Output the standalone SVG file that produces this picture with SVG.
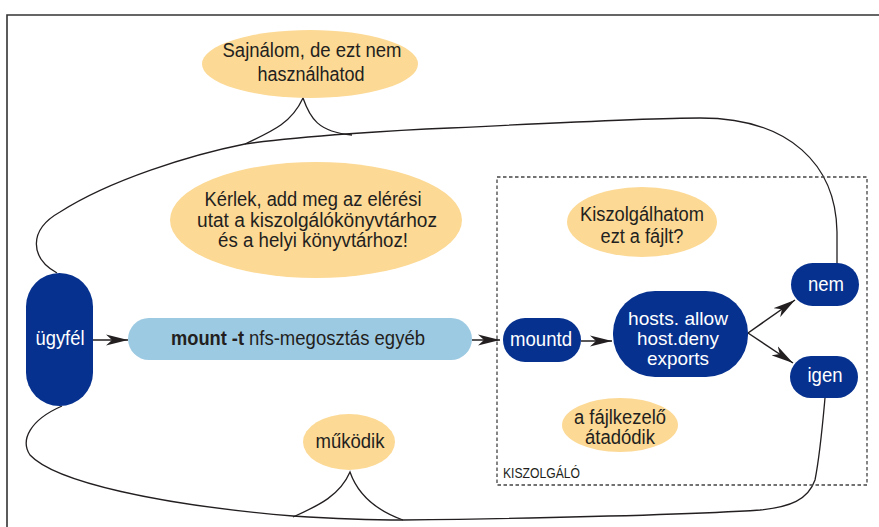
<svg xmlns="http://www.w3.org/2000/svg" width="879" height="527" viewBox="0 0 879 527">
<defs>
<style>
.bub{fill:#FCD995}
.dk{fill:#06318F}
.t{font-family:"Liberation Sans",Arial,sans-serif;font-size:20px;fill:#231F20;text-anchor:middle}
.w{fill:#fff}
.s{font-size:19px}
.ln{fill:none;stroke:#231F20;stroke-width:1.3}
.ar{fill:none;stroke:#231F20;stroke-width:1.5}
</style>
<marker id="ah" markerUnits="userSpaceOnUse" markerWidth="24" markerHeight="12" refX="22" refY="6" orient="auto">
<path d="M0,0.5 L22,6 L0,11.5 L6,6 Z" fill="#231F20"/>
</marker>
</defs>
<rect width="879" height="527" fill="#fff"/>
<path d="M7,527 L7,15 L879,15" fill="none" stroke="#333" stroke-width="1.6"/>

<g id="connectors">
<path class="ln" d="M57,273 C30,258 28,230 60,212 C110,180 190,155 245,144 C300,136 400,130 450,128 C550,123 650,118 700,118 C790,118 836,165 837,232 L837,263"/>
<path class="ln" d="M245,144 C275,130 292,122 303,98 C310,118 318,132 352,135"/>
<path class="ln" d="M62,406 C30,420 20,440 30,455 C55,482 160,505 293,516 C340,519 380,520 403,520 C550,518 700,514 760,510 C790,507 808,500 815,480 C820,455 823,420 825,398"/>
<path class="ln" d="M293,517 C320,505 340,495 350,472 C358,495 375,510 403,520"/>
<path class="ar" d="M93,340 L128,340" marker-end="url(#ah)"/>
<path class="ar" d="M472,340 L500,340" marker-end="url(#ah)"/>
<path class="ar" d="M581,341 L612,341" marker-end="url(#ah)"/>
<path class="ar" d="M748,333 L795,300" marker-end="url(#ah)"/>
<path class="ar" d="M748,333 L793,363" marker-end="url(#ah)"/>
</g>

<g id="kiszolgalo">
<rect x="497" y="177" width="370" height="308" fill="none" stroke="#444" stroke-width="1.3" stroke-dasharray="3.5,2.5"/>
<text x="503" y="478" font-family="'Liberation Sans',Arial,sans-serif" font-size="14" fill="#231F20" textLength="77" lengthAdjust="spacingAndGlyphs">KISZOLGÁLÓ</text>
</g>

<g id="sajnalom">
<ellipse class="bub" cx="310" cy="64" rx="108" ry="34"/>
<text class="t" x="312" y="57" textLength="179" lengthAdjust="spacingAndGlyphs">Sajnálom, de ezt nem</text>
<text class="t" x="311" y="81" textLength="107" lengthAdjust="spacingAndGlyphs">használhatod</text>
</g>

<g id="kerlek">
<ellipse class="bub" cx="316" cy="220" rx="146" ry="58"/>
<text class="t" x="313" y="206" textLength="217" lengthAdjust="spacingAndGlyphs">Kérlek, add meg az elérési</text>
<text class="t" x="317" y="227" textLength="240" lengthAdjust="spacingAndGlyphs">utat a kiszolgálókönyvtárhoz</text>
<text class="t" x="313" y="247" textLength="190" lengthAdjust="spacingAndGlyphs">és a helyi könyvtárhoz!</text>
</g>

<g id="kiszolgalhatom">
<ellipse class="bub" cx="642" cy="222" rx="75" ry="35"/>
<text class="t" x="642" y="221" textLength="124" lengthAdjust="spacingAndGlyphs">Kiszolgálhatom</text>
<text class="t" x="642" y="243" textLength="83" lengthAdjust="spacingAndGlyphs">ezt a fájlt?</text>
</g>

<g id="fajlkezelo">
<ellipse class="bub" cx="620" cy="425" rx="58" ry="27"/>
<text class="t" x="620" y="424" textLength="92" lengthAdjust="spacingAndGlyphs">a fájlkezelő</text>
<text class="t" x="620" y="444" textLength="70" lengthAdjust="spacingAndGlyphs">átadódik</text>
</g>

<g id="mukodik">
<ellipse class="bub" cx="349" cy="442" rx="46" ry="28"/>
<text class="t" x="350" y="448" textLength="69" lengthAdjust="spacingAndGlyphs">működik</text>
</g>

<g id="ugyfel">
<rect class="dk" x="26" y="273" width="67" height="133" rx="33.5"/>
<text class="t w" x="60" y="345" textLength="49" lengthAdjust="spacingAndGlyphs">ügyfél</text>
</g>

<g id="mount">
<rect x="128" y="318" width="344" height="42" rx="21" fill="#9DCAE3"/>
<text x="171" y="345" font-family="'Liberation Sans',Arial,sans-serif" font-size="20" font-weight="bold" fill="#231F20" textLength="73" lengthAdjust="spacingAndGlyphs">mount -t</text>
<text x="249" y="345" font-family="'Liberation Sans',Arial,sans-serif" font-size="20" fill="#231F20" textLength="176" lengthAdjust="spacingAndGlyphs">nfs-megosztás egyéb</text>
</g>

<g id="mountd">
<rect class="dk" x="503" y="318" width="78" height="44" rx="22"/>
<text class="t w" x="541" y="346" textLength="62" lengthAdjust="spacingAndGlyphs">mountd</text>
</g>

<g id="hosts">
<rect class="dk" x="613" y="291" width="135" height="86" rx="42"/>
<text class="t w s" x="678" y="325" textLength="100" lengthAdjust="spacingAndGlyphs">hosts. allow</text>
<text class="t w s" x="678" y="345" textLength="82" lengthAdjust="spacingAndGlyphs">host.deny</text>
<text class="t w s" x="678" y="365" textLength="62" lengthAdjust="spacingAndGlyphs">exports</text>
</g>

<g id="nem">
<rect class="dk" x="791" y="263" width="68" height="43" rx="21.5"/>
<text class="t w" x="826" y="291" textLength="36" lengthAdjust="spacingAndGlyphs">nem</text>
</g>

<g id="igen">
<rect class="dk" x="790" y="356" width="68" height="42" rx="21"/>
<text class="t w" x="825" y="382" textLength="35" lengthAdjust="spacingAndGlyphs">igen</text>
</g>
</svg>
